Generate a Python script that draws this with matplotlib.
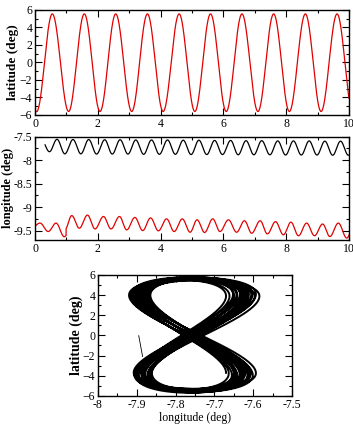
import matplotlib
matplotlib.use("Agg")
import matplotlib.pyplot as plt
import numpy as np
from matplotlib.ticker import MultipleLocator

# --- data: turning points (time in days, value in deg) ---
# latitude, top panel (red)
lat_t = [-0.45, 0.05, 0.55, 1.07, 1.57, 2.07, 2.57, 3.08, 3.58, 4.08, 4.59,
         5.09, 5.59, 6.09, 6.59, 7.10, 7.60, 8.10, 8.61, 9.11, 9.62, 10.12]
lat_v = [5.55, -5.62, 5.55, -5.6, 5.55, -5.6, 5.55, -5.6, 5.55, -5.6, 5.55,
         -5.6, 5.55, -5.6, 5.55, -5.6, 5.55, -5.6, 5.55, -5.6, 5.55, -5.6]

# longitude, middle panel, black
blk_peak_t = [0.20, 0.70, 1.21, 1.71, 2.22, 2.71, 3.21, 3.71, 4.22, 4.72, 5.22,
              5.72, 6.23, 6.72, 7.22, 7.73, 8.23, 8.73, 9.23, 9.73, 10.23]
blk_peak_v = [-7.56, -7.555, -7.56, -7.56, -7.565, -7.565, -7.57, -7.57, -7.57,
              -7.575, -7.575, -7.58, -7.58, -7.585, -7.585, -7.59, -7.59,
              -7.59, -7.595, -7.595, -7.6]
blk_trough_t = [0.46, 0.95, 1.46, 1.96, 2.46, 2.96, 3.46, 3.96, 4.47, 4.97,
                5.47, 5.97, 6.47, 6.97, 7.48, 7.98, 8.48, 8.98, 9.48, 9.98]
blk_trough_v = [-7.82, -7.865, -7.865, -7.87, -7.87, -7.87, -7.875, -7.875,
                -7.875, -7.88, -7.88, -7.88, -7.885, -7.885, -7.885, -7.89,
                -7.89, -7.89, -7.895, -7.895]
blk_span = (0.32, 10.0)

# longitude, middle panel, red (two pieces with a jump at day 0.99)
red1_t = [-0.12, 0.16, 0.42, 0.67, 0.93, 1.20]
red1_v = [-9.45, -9.34, -9.52, -9.34, -9.63, -9.40]
red1_span = (0.0, 0.99)
red2_t = [0.96, 1.17, 1.41, 1.67, 1.91, 2.18, 2.42, 2.69, 2.92, 3.18, 3.43,
          3.68, 3.93, 4.19, 4.43, 4.69, 4.94, 5.16, 5.40, 5.66, 5.89, 6.16,
          6.42, 6.67, 6.90, 7.17, 7.40, 7.66, 7.91, 8.15, 8.39, 8.65, 8.90,
          9.16, 9.39, 9.66, 9.93, 10.16]
red2_v = [-9.47, -9.18, -9.45, -9.17, -9.465, -9.20, -9.465, -9.20, -9.485,
          -9.22, -9.50, -9.23, -9.505, -9.25, -9.52, -9.25, -9.535, -9.27,
          -9.54, -9.25, -9.52, -9.27, -9.535, -9.29, -9.556, -9.29, -9.57,
          -9.31, -9.59, -9.32, -9.61, -9.34, -9.61, -9.36, -9.627, -9.34,
          -9.66, -9.35]
red2_span = (0.99, 10.0)

# bottom panel: per-cycle extremes of the figure-eight
f8_lat_max = [5.5, 5.55, 5.6, 5.52, 5.65, 5.58, 5.7, 5.62, 5.75, 5.66,
              5.8, 5.7, 5.76, 5.6, 5.72, 5.55, 5.68, 5.5, 5.62, 5.48]
f8_lat_min = [-5.3, -5.38, -5.45, -5.35, -5.5, -5.42, -5.58, -5.48, -5.65, -5.52,
              -5.7, -5.6, -5.66, -5.45, -5.62, -5.4, -5.55, -5.33, -5.5, -5.3]
f8_up_west = [-7.898, -7.882, -7.865, -7.902, -7.885, -7.869, -7.905, -7.889,
              -7.873, -7.909, -7.893, -7.877, -7.913, -7.897, -7.880, -7.916,
              -7.900, -7.884, -7.920, -7.904]
f8_up_east = [-7.670, -7.649, -7.629, -7.661, -7.641, -7.620, -7.652, -7.632,
              -7.611, -7.643, -7.623, -7.602, -7.634, -7.614, -7.593, -7.625,
              -7.605, -7.584, -7.616, -7.596]
f8_low_west = [-7.895, -7.878, -7.861, -7.897, -7.880, -7.864, -7.899, -7.882,
               -7.866, -7.901, -7.885, -7.868, -7.903, -7.887, -7.870, -7.906,
               -7.889, -7.872, -7.908, -7.891]
f8_low_east = [-7.670, -7.650, -7.630, -7.663, -7.643, -7.623, -7.655, -7.635,
               -7.615, -7.648, -7.628, -7.608, -7.641, -7.621, -7.601, -7.633,
               -7.613, -7.593, -7.626, -7.606]
start_lon = [-7.895, -7.885]
start_lat = [-0.03, -2.1]


def wave(t, tx, vx):
    # half-cosine between consecutive turning points
    tx = np.asarray(tx)
    vx = np.asarray(vx)
    i = np.clip(np.searchsorted(tx, t) - 1, 0, len(tx) - 2)
    f = (t - tx[i]) / (tx[i + 1] - tx[i])
    return vx[i] + (vx[i + 1] - vx[i]) * (1 - np.cos(np.pi * f)) / 2


def merge(t1, v1, t2, v2):
    t = np.concatenate([t1, t2])
    v = np.concatenate([v1, v2])
    o = np.argsort(t)
    return t[o], v[o]


plt.rcParams['font.family'] = ['Liberation Serif', 'DejaVu Serif']
plt.rcParams['font.size'] = 8.5

fig = plt.figure(figsize=(3.53, 4.30), dpi=100)
ax1 = fig.add_axes([0.0992, 0.7326, 0.8895, 0.2442])
ax2 = fig.add_axes([0.0992, 0.4419, 0.8895, 0.2402])
ax3 = fig.add_axes([0.2776, 0.0795, 0.5496, 0.2810])

# top: latitude
t = np.linspace(0, 10, 2000)
ax1.plot(t, wave(t, lat_t, lat_v), color='#e00000', lw=0.9)
ax1.set_xlim(0, 10)
ax1.set_ylim(-6, 6)
ax1.xaxis.set_major_locator(MultipleLocator(2))
ax1.xaxis.set_minor_locator(MultipleLocator(1))
ax1.yaxis.set_major_locator(MultipleLocator(2))
ax1.yaxis.set_minor_locator(MultipleLocator(1))
ax1.set_ylabel('latitude (deg)', fontweight='bold', fontsize=9.5)
ax1.yaxis.set_label_coords(-0.05, 0.5)

# middle: longitude
bt, bv = merge(blk_peak_t, blk_peak_v, blk_trough_t, blk_trough_v)
tb = np.linspace(blk_span[0], blk_span[1], 2000)
ax2.plot(tb, wave(tb, bt, bv), color='black', lw=0.9)
tr1 = np.linspace(red1_span[0], red1_span[1], 200)
tr2 = np.linspace(red2_span[0], red2_span[1], 2000)
tr = np.concatenate([tr1, tr2])
rv = np.concatenate([wave(tr1, red1_t, red1_v), wave(tr2, red2_t, red2_v)])
ax2.plot(tr, rv, color='#e00000', lw=0.9)
ax2.set_xlim(0, 10)
ax2.set_ylim(-9.7, -7.5)
ax2.xaxis.set_major_locator(MultipleLocator(2))
ax2.xaxis.set_minor_locator(MultipleLocator(1))
ax2.yaxis.set_minor_locator(MultipleLocator(0.25))
ax2.set_yticks([-9.5, -9, -8.5, -8, -7.5])
ax2.set_yticklabels(['-9.5', '-9', '-8.5', '-8', '-7.5'])
ax2.set_ylabel('longitude (deg)', fontweight='bold', fontsize=9)
ax2.yaxis.set_label_coords(-0.068, 0.5)

# bottom: figure-eight
n = len(f8_lat_max)
k = np.arange(n)
lt, lv = merge(k, f8_lat_min, k + 0.5, f8_lat_max)
ot = np.concatenate([k + 0.125, k + 0.375, k + 0.625, k + 0.875])
ov = np.concatenate([f8_low_east, f8_up_west, f8_up_east, f8_low_west])
o = np.argsort(ot)
ot, ov = ot[o], ov[o]
s = np.linspace(0.125, n - 0.125, 8000)
ax3.plot(wave(s, ot, ov), wave(s, lt, lv), color='black', lw=1.4)
ax3.plot(start_lon, start_lat, color='black', lw=0.6)
ax3.set_xlim(-8, -7.5)
ax3.set_ylim(-6, 6)
ax3.set_xticks([-8, -7.9, -7.8, -7.7, -7.6, -7.5])
ax3.set_xticklabels(['-8', '-7.9', '-7.8', '-7.7', '-7.6', '-7.5'])
ax3.xaxis.set_minor_locator(MultipleLocator(0.05))
ax3.yaxis.set_major_locator(MultipleLocator(2))
ax3.yaxis.set_minor_locator(MultipleLocator(1))
ax3.set_xlabel('longitude (deg)', fontsize=8.5, labelpad=1)
ax3.set_ylabel('latitude (deg)', fontweight='bold', fontsize=10)
ax3.yaxis.set_label_coords(-0.075, 0.5)

for ax in (ax1, ax2, ax3):
    ax.tick_params(which='both', direction='in', top=True, right=True,
                   width=0.8, pad=2)
    ax.tick_params(which='major', length=5)
    ax.tick_params(which='minor', length=2.5)
    for sp in ax.spines.values():
        sp.set_linewidth(1.0)

fig.savefig('out.png', dpi=100)
